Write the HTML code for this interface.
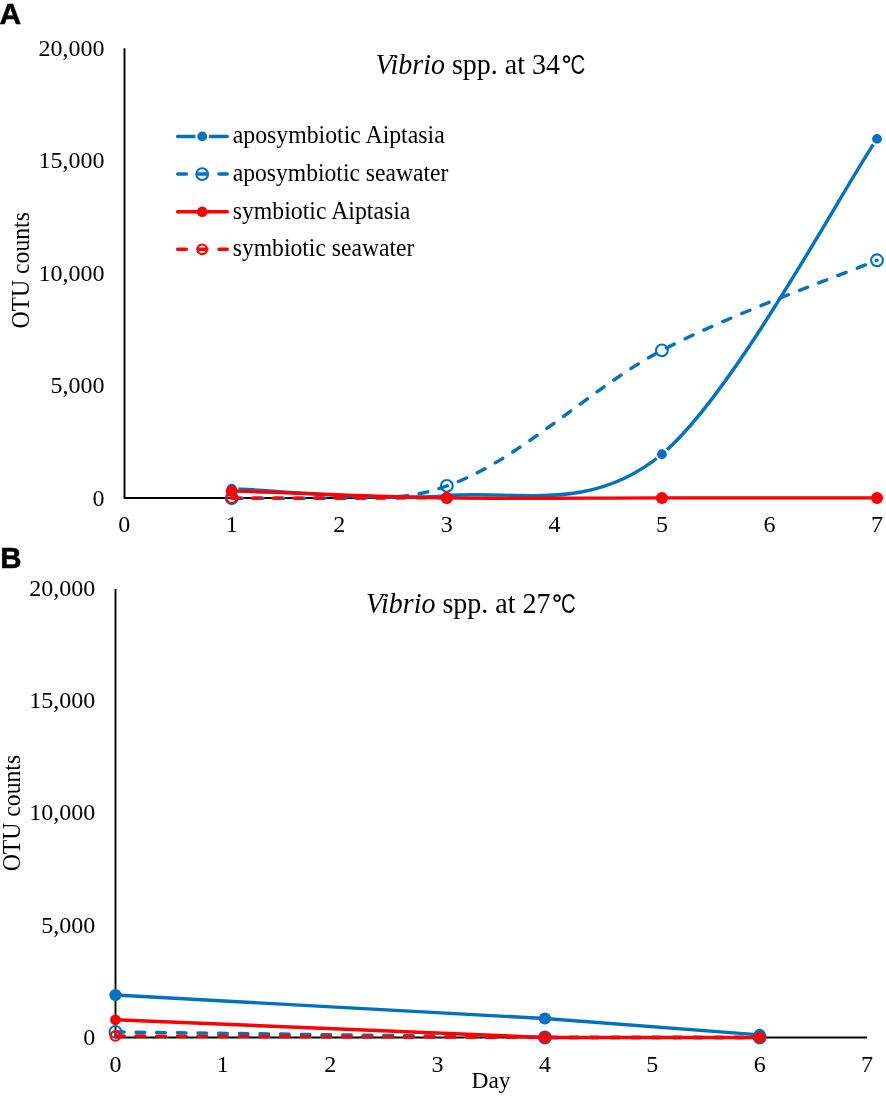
<!DOCTYPE html><html><head><meta charset="utf-8"><title>Vibrio spp. OTU counts</title>
<style>html,body{margin:0;padding:0;background:#fff}svg{display:block}text{font-family:"Liberation Serif",serif;fill:#000}.s{font-family:"Liberation Sans",sans-serif}</style></head><body>
<svg width="886" height="1096" viewBox="0 0 886 1096">
<rect width="886" height="1096" fill="#fff"/>
<text class="s" x="-0.6" y="23.7" font-size="30" font-weight="bold" stroke="#000" stroke-width="0.5">A</text>
<text class="s" x="0.3" y="568.0" font-size="29.5" font-weight="bold" stroke="#000" stroke-width="0.5">B</text>
<path d="M124.5,48.3 V497.9 H877.0" fill="none" stroke="#000" stroke-width="1.95" stroke-linejoin="round"/>
<text x="104.5" y="56.0" font-size="24" text-anchor="end">20,000</text>
<text x="104.5" y="168.4" font-size="24" text-anchor="end">15,000</text>
<text x="104.5" y="280.8" font-size="24" text-anchor="end">10,000</text>
<text x="104.5" y="393.2" font-size="24" text-anchor="end">5,000</text>
<text x="104.5" y="505.6" font-size="24" text-anchor="end">0</text>
<text x="124.2" y="532.3" font-size="24" text-anchor="middle">0</text>
<text x="231.7" y="532.3" font-size="24" text-anchor="middle">1</text>
<text x="339.3" y="532.3" font-size="24" text-anchor="middle">2</text>
<text x="446.8" y="532.3" font-size="24" text-anchor="middle">3</text>
<text x="554.4" y="532.3" font-size="24" text-anchor="middle">4</text>
<text x="661.9" y="532.3" font-size="24" text-anchor="middle">5</text>
<text x="769.4" y="532.3" font-size="24" text-anchor="middle">6</text>
<text x="877.0" y="532.3" font-size="24" text-anchor="middle">7</text>
<text transform="translate(28.9,270.3) rotate(-90) scale(1,1.05)" font-size="23.7" text-anchor="middle">OTU counts</text>
<text transform="translate(375.5,73.9) scale(1,1.07)" font-size="28"><tspan font-style="italic">Vibrio</tspan> spp. at 34</text>
<text class="s" x="561.7" y="71.9" font-size="24" font-weight="bold">°</text>
<text class="s" transform="translate(570.5,74.2) scale(0.76,1)" font-size="26.8">C</text>
<path d="M231.74,488.63 C267.59,489.80 375.13,501.33 446.82,495.60 C518.51,489.87 590.21,513.70 661.90,454.24 C733.59,394.79 841.13,191.44 876.98,138.88" fill="none" stroke="#0070c0" stroke-width="3.4" stroke-linecap="round" stroke-linejoin="round"/>
<circle cx="231.7" cy="488.6" r="5.9" fill="#0070c0" stroke="#fff" stroke-width="2"/>
<circle cx="661.9" cy="454.2" r="5.9" fill="#0070c0" stroke="#fff" stroke-width="2"/>
<circle cx="877.0" cy="138.9" r="5.9" fill="#0070c0" stroke="#fff" stroke-width="2"/>
<path d="M231.74,498.19 C390.00,498.00 403.80,500.72 446.82,485.94 C518.51,461.31 590.21,388.01 661.90,350.40 C733.59,312.79 841.13,275.29 876.98,260.26" fill="none" stroke="#0070c0" stroke-width="3.4" stroke-linecap="round" stroke-dasharray="8.7,11.95" stroke-dashoffset="-1.8"/>
<circle cx="231.7" cy="498.2" r="5.9" fill="none" stroke="#0070c0" stroke-width="2.1"/>
<circle cx="446.8" cy="485.9" r="5.9" fill="none" stroke="#0070c0" stroke-width="2.1"/>
<circle cx="661.9" cy="350.4" r="5.9" fill="none" stroke="#0070c0" stroke-width="2.1"/>
<circle cx="877.0" cy="260.3" r="5.9" fill="none" stroke="#0070c0" stroke-width="2.1"/>
<path d="M231.74,490.88 C267.59,492.04 375.13,496.69 446.82,497.85 C518.51,499.01 590.21,497.85 661.90,497.85 C733.59,497.85 841.13,497.85 876.98,497.85" fill="none" stroke="#ff0000" stroke-width="3.4" stroke-linecap="round" stroke-linejoin="round"/>
<circle cx="231.7" cy="490.9" r="6.0" fill="#ff0000"/>
<circle cx="446.8" cy="497.9" r="6.0" fill="#ff0000"/>
<circle cx="661.9" cy="497.9" r="6.0" fill="#ff0000"/>
<circle cx="877.0" cy="497.9" r="6.0" fill="#ff0000"/>
<path d="M231.74,498.19 C267.59,498.13 410.97,497.91 446.82,497.85" fill="none" stroke="#ff0000" stroke-width="3.4" stroke-linecap="round" stroke-dasharray="8.7,11.95"/>
<circle cx="231.7" cy="498.2" r="4.8" fill="none" stroke="#ff0000" stroke-width="2.2"/>
<circle cx="446.8" cy="497.9" r="4.8" fill="none" stroke="#ff0000" stroke-width="2.2"/>
<path d="M177.7,136.4 H227.2" fill="none" stroke="#0070c0" stroke-width="3.5" stroke-linecap="round"/>
<circle cx="202.2" cy="136.4" r="5.9" fill="#0070c0" stroke="#fff" stroke-width="2"/>
<text transform="translate(232.7,143.4) scale(1,1.04)" font-size="24" textLength="212.0" lengthAdjust="spacingAndGlyphs">aposymbiotic Aiptasia</text>
<path d="M177.7,174.1 H227.2" fill="none" stroke="#0070c0" stroke-width="3.5" stroke-linecap="round" stroke-dasharray="8.6,12.05"/>
<circle cx="202.2" cy="174.1" r="5.9" fill="none" stroke="#0070c0" stroke-width="2.1"/>
<text transform="translate(232.7,181.1) scale(1,1.04)" font-size="24" textLength="215.7" lengthAdjust="spacingAndGlyphs">aposymbiotic seawater</text>
<path d="M177.7,211.7 H227.2" fill="none" stroke="#ff0000" stroke-width="3.5" stroke-linecap="round"/>
<circle cx="202.2" cy="211.7" r="5.3" fill="#ff0000"/>
<text transform="translate(232.7,218.7) scale(1,1.04)" font-size="24" textLength="177.7" lengthAdjust="spacingAndGlyphs">symbiotic Aiptasia</text>
<path d="M177.7,249.3 H227.2" fill="none" stroke="#ff0000" stroke-width="3.5" stroke-linecap="round" stroke-dasharray="8.6,12.05"/>
<circle cx="202.2" cy="249.3" r="4.8" fill="none" stroke="#ff0000" stroke-width="2.2"/>
<text transform="translate(232.7,256.3) scale(1,1.04)" font-size="24" textLength="181.7" lengthAdjust="spacingAndGlyphs">symbiotic seawater</text>
<path d="M115.5,588.9 V1037.5 H867.1" fill="none" stroke="#000" stroke-width="1.9" stroke-linejoin="round"/>
<text x="95.3" y="595.7" font-size="24" text-anchor="end">20,000</text>
<text x="95.3" y="708.0" font-size="24" text-anchor="end">15,000</text>
<text x="95.3" y="820.4" font-size="24" text-anchor="end">10,000</text>
<text x="95.3" y="932.7" font-size="24" text-anchor="end">5,000</text>
<text x="95.3" y="1045.0" font-size="24" text-anchor="end">0</text>
<text x="115.4" y="1072" font-size="24" text-anchor="middle">0</text>
<text x="222.8" y="1072" font-size="24" text-anchor="middle">1</text>
<text x="330.2" y="1072" font-size="24" text-anchor="middle">2</text>
<text x="437.5" y="1072" font-size="24" text-anchor="middle">3</text>
<text x="544.9" y="1072" font-size="24" text-anchor="middle">4</text>
<text x="652.3" y="1072" font-size="24" text-anchor="middle">5</text>
<text x="759.7" y="1072" font-size="24" text-anchor="middle">6</text>
<text x="867.1" y="1072" font-size="24" text-anchor="middle">7</text>
<text transform="translate(19.7,813.1) rotate(-90) scale(1,1.05)" font-size="23.7" text-anchor="middle">OTU counts</text>
<text transform="translate(366.0,613.1) scale(1,1.07)" font-size="28"><tspan font-style="italic">Vibrio</tspan> spp. at 27</text>
<text class="s" x="552.2" y="611.1" font-size="24" font-weight="bold">°</text>
<text class="s" transform="translate(561.0,613.4) scale(0.76,1)" font-size="26.8">C</text>
<text x="491" y="1088" font-size="23.5" text-anchor="middle">Day</text>
<path d="M115.40,995.03 L544.92,1018.51 L759.68,1034.87" fill="none" stroke="#0070c0" stroke-width="3.4" stroke-linecap="round" stroke-linejoin="round"/>
<circle cx="115.4" cy="995.0" r="6.1" fill="#0070c0"/>
<circle cx="544.9" cy="1018.5" r="6.1" fill="#0070c0"/>
<circle cx="759.7" cy="1034.9" r="6.1" fill="#0070c0"/>
<path d="M115.40,1031.95 L544.92,1037.45 L759.68,1037.45" fill="none" stroke="#0070c0" stroke-width="3.4" stroke-linecap="round" stroke-dasharray="8.7,11.95"/>
<circle cx="115.4" cy="1031.9" r="5.9" fill="none" stroke="#0070c0" stroke-width="2.1"/>
<circle cx="544.9" cy="1037.5" r="5.9" fill="none" stroke="#0070c0" stroke-width="2.1"/>
<circle cx="759.7" cy="1037.5" r="5.9" fill="none" stroke="#0070c0" stroke-width="2.1"/>
<path d="M115.40,1019.70 L544.92,1037.45 L759.68,1037.45" fill="none" stroke="#ff0000" stroke-width="3.4" stroke-linecap="round" stroke-linejoin="round"/>
<circle cx="115.4" cy="1019.7" r="5.3" fill="#ff0000"/>
<circle cx="544.9" cy="1037.5" r="5.3" fill="#ff0000"/>
<circle cx="759.7" cy="1037.5" r="5.3" fill="#ff0000"/>
<path d="M115.40,1035.94 L544.92,1037.45 L759.68,1037.45" fill="none" stroke="#ff0000" stroke-width="3.4" stroke-linecap="round" stroke-dasharray="8.7,11.95"/>
<circle cx="115.4" cy="1035.9" r="4.8" fill="none" stroke="#ff0000" stroke-width="2.2"/>
<circle cx="544.9" cy="1037.5" r="4.8" fill="none" stroke="#ff0000" stroke-width="2.2"/>
<circle cx="759.7" cy="1037.5" r="4.8" fill="none" stroke="#ff0000" stroke-width="2.2"/>
</svg></body></html>
